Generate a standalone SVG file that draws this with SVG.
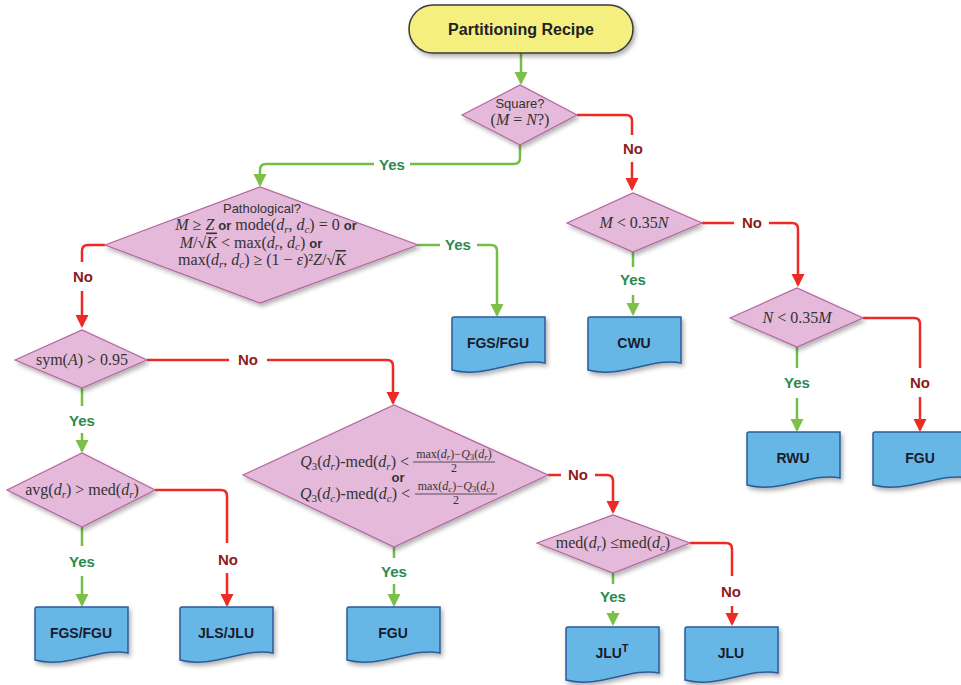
<svg xmlns="http://www.w3.org/2000/svg" xmlns:xlink="http://www.w3.org/1999/xlink" width="961" height="685" viewBox="0 0 961 685">
<defs>
<filter id="sh" x="-10%" y="-10%" width="130%" height="140%">
<feDropShadow dx="2" dy="3" stdDeviation="2" flood-color="#000" flood-opacity="0.3"/>
</filter>
<marker id="ag" markerUnits="userSpaceOnUse" markerWidth="14" markerHeight="14" refX="11" refY="6.5" orient="auto"><path d="M0,0 L13,6.5 L0,13 z" fill="#7cc04a"/></marker>
<marker id="ar" markerUnits="userSpaceOnUse" markerWidth="14" markerHeight="14" refX="11" refY="6.5" orient="auto"><path d="M0,0 L13,6.5 L0,13 z" fill="#ee2a24"/></marker>
<path id="doc" d="M0,2 Q0,0 2,0 H93 V46 C65,40 33,62 0,53 Z"/>
<path id="docw" d="M0,2 Q0,0 2,0 H96 V46 C67,40 34,62 0,53 Z"/>
<style>
.dia{fill:#e4b9d9;stroke:#b5659f;stroke-width:1.2;filter:url(#sh)}
.doc{fill:#66b6e6;stroke:#2b5c9c;stroke-width:1.5;filter:url(#sh)}
.start{fill:#f4ef7e;stroke:#3a3a3a;stroke-width:1.5;filter:url(#sh)}
.g{stroke:#72bf44;stroke-width:2.5;fill:none}
.r{stroke:#ee2a24;stroke-width:2.5;fill:none}
.yes{font-family:"Liberation Sans",Arial,sans-serif;font-weight:bold;font-size:15px;fill:#2a8a4f;text-anchor:middle}
.no{font-family:"Liberation Sans",Arial,sans-serif;font-weight:bold;font-size:15px;fill:#8c1c1c;text-anchor:middle}
.lbl{font-family:"Liberation Sans",Arial,sans-serif;font-weight:bold;font-size:14px;fill:#1b1b2b;text-anchor:middle}
.title{font-family:"Liberation Sans",Arial,sans-serif;font-weight:bold;font-size:16px;fill:#222;text-anchor:middle}
.sans{font-family:"Liberation Sans",Arial,sans-serif;font-size:13px;fill:#333;text-anchor:middle}
.m{font-family:"Liberation Serif","Times New Roman",serif;font-size:16px;fill:#333}
.i{font-style:italic}
.sb{font-size:11px;font-style:italic}
.or{font-family:"Liberation Sans",Arial,sans-serif;font-weight:bold;font-size:13px}
.fr{font-family:"Liberation Serif","Times New Roman",serif;font-size:12px;fill:#333;text-anchor:middle}
.fs{font-size:9px;font-style:italic}
.bar{stroke:#333;stroke-width:0.8}
</style>
</defs>
<g id="connectors">
<path class="g" d="M521,53 V83" marker-end="url(#ag)"/>
<path class="g" d="M520,145 V158 Q520,164 514,164 H410"/>
<path class="g" d="M374,164 H266 Q260,164 260,170 V185" marker-end="url(#ag)"/>
<path class="r" d="M577,115 H626 Q632,115 632,121 V135"/>
<path class="r" d="M632,162 V189" marker-end="url(#ar)"/>
<path class="g" d="M418,245 H440"/>
<path class="g" d="M477,245 H491 Q497,245 497,251 V315" marker-end="url(#ag)"/>
<path class="r" d="M105,245 H88 Q82,245 82,251 V262"/>
<path class="r" d="M82,291 V326" marker-end="url(#ar)"/>
<path class="r" d="M147,360 H229"/>
<path class="r" d="M267,360 H387 Q393,360 393,366 V403" marker-end="url(#ar)"/>
<path class="g" d="M82,388 V406"/>
<path class="g" d="M82,433 V451" marker-end="url(#ag)"/>
<path class="r" d="M155,490 H221 Q227,490 227,496 V543"/>
<path class="r" d="M227,573 V605" marker-end="url(#ar)"/>
<path class="g" d="M82,527 V546"/>
<path class="g" d="M82,576 V605" marker-end="url(#ag)"/>
<path class="g" d="M394,547 V558"/>
<path class="g" d="M394,584 V605" marker-end="url(#ag)"/>
<path class="r" d="M548,475 H561"/>
<path class="r" d="M595,475 H607 Q613,475 613,481 V512" marker-end="url(#ar)"/>
<path class="g" d="M613,573 V584"/>
<path class="g" d="M613,611 V624" marker-end="url(#ag)"/>
<path class="r" d="M690,543 H726 Q732,543 732,549 V576"/>
<path class="r" d="M732,606 V624" marker-end="url(#ar)"/>
<path class="r" d="M702,223 H734"/>
<path class="r" d="M769,223 H792 Q798,223 798,229 V285" marker-end="url(#ar)"/>
<path class="g" d="M633,252 V267"/>
<path class="g" d="M633,295 V314" marker-end="url(#ag)"/>
<path class="r" d="M863,318 H914 Q920,318 920,324 V368"/>
<path class="r" d="M920,397 V430" marker-end="url(#ar)"/>
<path class="g" d="M797,347 V368"/>
<path class="g" d="M797,398 V430" marker-end="url(#ag)"/>
<text class="yes" x="392" y="170">Yes</text>
<text class="no" x="633" y="154">No</text>
<text class="yes" x="458" y="250">Yes</text>
<text class="no" x="83" y="282">No</text>
<text class="no" x="248" y="365">No</text>
<text class="yes" x="82" y="426">Yes</text>
<text class="no" x="228" y="565">No</text>
<text class="yes" x="82" y="567">Yes</text>
<text class="yes" x="394" y="577">Yes</text>
<text class="no" x="578" y="480">No</text>
<text class="yes" x="613" y="602">Yes</text>
<text class="no" x="731" y="597">No</text>
<text class="no" x="752" y="228">No</text>
<text class="yes" x="633" y="285">Yes</text>
<text class="no" x="920" y="388">No</text>
<text class="yes" x="797" y="388">Yes</text>
</g>
<g id="start">
<rect class="start" x="409" y="5" width="224" height="48" rx="24"/>
<text class="title" x="521" y="35">Partitioning Recipe</text>
</g>
<g id="square">
<polygon class="dia" points="462,115 520,85 577,115 520,145"/>
<text class="sans" x="520" y="108">Square?</text>
<text class="m" x="520" y="125" text-anchor="middle" font-size="15">(<tspan class="i">M</tspan> = <tspan class="i">N</tspan>?)</text>
</g>
<g id="pathological">
<polygon class="dia" points="105,245 260,187 418,245 260,303"/>
<text class="sans" x="262" y="213">Pathological?</text>
<text class="m" x="266" y="230" text-anchor="middle" font-size="15.5"><tspan class="i">M</tspan> ≥ <tspan class="i">Z</tspan> <tspan class="or">or</tspan> mode(<tspan class="i">d</tspan><tspan class="sb" dy="2.5">r</tspan><tspan dy="-2.5">, </tspan><tspan class="i">d</tspan><tspan class="sb" dy="2.5">c</tspan><tspan dy="-2.5">) = 0 </tspan><tspan class="or">or</tspan></text>
<text class="m" x="251" y="247.5" text-anchor="middle" font-size="15.5"><tspan class="i">M</tspan>/√<tspan class="i" text-decoration="overline">K</tspan> &lt; max(<tspan class="i">d</tspan><tspan class="sb" dy="2.5">r</tspan><tspan dy="-2.5">, </tspan><tspan class="i">d</tspan><tspan class="sb" dy="2.5">c</tspan><tspan dy="-2.5">) </tspan><tspan class="or">or</tspan></text>
<text class="m" x="262" y="265" text-anchor="middle" font-size="15.5">max(<tspan class="i">d</tspan><tspan class="sb" dy="2.5">r</tspan><tspan dy="-2.5">, </tspan><tspan class="i">d</tspan><tspan class="sb" dy="2.5">c</tspan><tspan dy="-2.5">) ≥ (1 − </tspan><tspan class="i">ε</tspan>)²<tspan class="i">Z</tspan>/√<tspan class="i" text-decoration="overline">K</tspan></text>
</g>
<g id="sym">
<polygon class="dia" points="15,360 82,330 147,360 82,388"/>
<text class="m" x="82" y="365" text-anchor="middle" font-size="14">sym(<tspan class="i">A</tspan>) &gt; 0.95</text>
</g>
<g id="avg">
<polygon class="dia" points="7,490 82,453 155,490 82,527"/>
<text class="m" x="82" y="495" text-anchor="middle" font-size="16.5">avg(<tspan class="i">d</tspan><tspan class="sb" dy="3">r</tspan><tspan dy="-3">) &gt; med(</tspan><tspan class="i">d</tspan><tspan class="sb" dy="3">r</tspan><tspan dy="-3">)</tspan></text>
</g>
<g id="q3">
<polygon class="dia" points="243,475 394,405 548,475 394,547"/>
<text class="m" x="409" y="467" text-anchor="end" font-size="16.5"><tspan class="i">Q</tspan><tspan font-size="11" dy="3">3</tspan><tspan dy="-3">(</tspan><tspan class="i">d</tspan><tspan class="sb" dy="3">r</tspan><tspan dy="-3">)-med(</tspan><tspan class="i">d</tspan><tspan class="sb" dy="3">r</tspan><tspan dy="-3">) &lt;</tspan></text>
<text class="fr" x="454" y="458">max(<tspan class="i">d</tspan><tspan class="fs" dy="2">r</tspan><tspan dy="-2">)−</tspan><tspan class="i">Q</tspan><tspan font-size="9" dy="2">3</tspan><tspan dy="-2">(</tspan><tspan class="i">d</tspan><tspan class="fs" dy="2">r</tspan><tspan dy="-2">)</tspan></text>
<line class="bar" x1="413" y1="462" x2="495" y2="462"/>
<text class="fr" x="454" y="472">2</text>
<text class="or" x="398" y="482" text-anchor="middle" fill="#333" font-size="14">or</text>
<text class="m" x="410" y="499" text-anchor="end" font-size="16.5"><tspan class="i">Q</tspan><tspan font-size="11" dy="3">3</tspan><tspan dy="-3">(</tspan><tspan class="i">d</tspan><tspan class="sb" dy="3">c</tspan><tspan dy="-3">)-med(</tspan><tspan class="i">d</tspan><tspan class="sb" dy="3">c</tspan><tspan dy="-3">) &lt;</tspan></text>
<text class="fr" x="456" y="490">max(<tspan class="i">d</tspan><tspan class="fs" dy="2">c</tspan><tspan dy="-2">)−</tspan><tspan class="i">Q</tspan><tspan font-size="9" dy="2">3</tspan><tspan dy="-2">(</tspan><tspan class="i">d</tspan><tspan class="fs" dy="2">c</tspan><tspan dy="-2">)</tspan></text>
<line class="bar" x1="415" y1="494" x2="497" y2="494"/>
<text class="fr" x="456" y="504">2</text>
</g>
<g id="med">
<polygon class="dia" points="537,543 613,515 690,543 613,573"/>
<text class="m" x="613" y="548" text-anchor="middle" font-size="16.5">med(<tspan class="i">d</tspan><tspan class="sb" dy="3">r</tspan><tspan dy="-3">) ≤med(</tspan><tspan class="i">d</tspan><tspan class="sb" dy="3">c</tspan><tspan dy="-3">)</tspan></text>
</g>
<g id="mless">
<polygon class="dia" points="567,223 633,193 702,223 633,252"/>
<text class="m" x="634" y="228" text-anchor="middle" font-size="16.5"><tspan class="i">M</tspan> &lt; 0.35<tspan class="i">N</tspan></text>
</g>
<g id="nless">
<polygon class="dia" points="730,318 797,288 863,318 797,347"/>
<text class="m" x="797" y="323" text-anchor="middle" font-size="16.5"><tspan class="i">N</tspan> &lt; 0.35<tspan class="i">M</tspan></text>
</g>
<g id="fgsfgu1"><use class="doc" xlink:href="#doc" x="452" y="317"/><text class="lbl" x="498" y="348">FGS/FGU</text></g>
<g id="cwu"><use class="doc" xlink:href="#doc" x="588" y="317"/><text class="lbl" x="634" y="348">CWU</text></g>
<g id="rwu"><use class="doc" xlink:href="#doc" x="747" y="432"/><text class="lbl" x="793" y="463">RWU</text></g>
<g id="fgu1"><use class="doc" xlink:href="#docw" x="873" y="432"/><text class="lbl" x="920" y="463">FGU</text></g>
<g id="fgsfgu2"><use class="doc" xlink:href="#doc" x="35" y="607"/><text class="lbl" x="81" y="638">FGS/FGU</text></g>
<g id="jlsjlu"><use class="doc" xlink:href="#doc" x="180" y="607"/><text class="lbl" x="226" y="638">JLS/JLU</text></g>
<g id="fgu2"><use class="doc" xlink:href="#doc" x="347" y="607"/><text class="lbl" x="393" y="638">FGU</text></g>
<g id="jlut"><use class="doc" xlink:href="#doc" x="566" y="627"/><text class="lbl" x="612" y="658">JLU<tspan font-size="11" dy="-6">T</tspan></text></g>
<g id="jlu"><use class="doc" xlink:href="#doc" x="685" y="627"/><text class="lbl" x="731" y="658">JLU</text></g>
</svg>
